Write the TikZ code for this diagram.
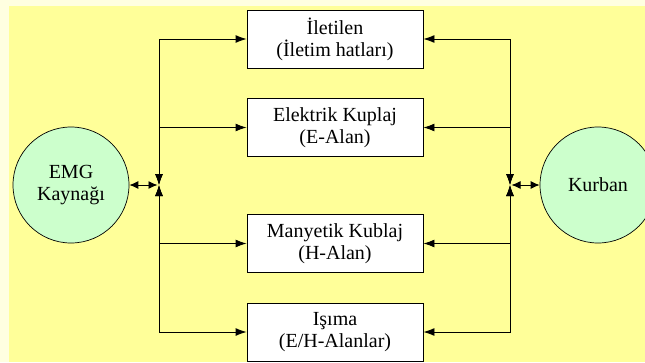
\documentclass[tikz,border=0pt]{standalone}
\usepackage{fontspec}
\setmainfont{Liberation Serif}
\usetikzlibrary{arrows.meta}
\definecolor{pagecream}{HTML}{FFFFE0}
\definecolor{paneyellow}{HTML}{FFFF99}
\definecolor{discgreen}{HTML}{CCFFCC}
\begin{document}
\begin{tikzpicture}[x=1pt,y=-1pt,
  every node/.style={font=\fontsize{20}{22}\selectfont, text=black},
  pathbox/.style={draw=black, line width=0.9pt, fill=white, minimum width=176pt,
    minimum height=58pt, align=center, inner sep=0pt},
  disc/.style={circle, draw=black, line width=0.7pt, fill=discgreen,
    minimum size=116pt, align=center, inner sep=0pt},
  link/.style={line width=0.9pt, {Latex[length=11pt,width=8pt]}-{Latex[length=11pt,width=8pt]}},
  stub/.style={line width=0.9pt, {Latex[length=9pt,width=8pt]}-{Latex[length=9pt,width=8pt]}}]
  % page and panel
  \useasboundingbox (0,0) rectangle (645,362);
  \fill[pagecream] (0,0) rectangle (645,362);
  \fill[paneyellow] (9,6) rectangle (645,362);

  % coupling paths
  \node[pathbox] (b1) at (335,39)    {İletilen\\(İletim hatları)};
  \node[pathbox] (b2) at (335,127.5) {Elektrik Kuplaj\\(E-Alan)};
  \node[pathbox] (b3) at (335,243.5) {Manyetik Kublaj\\(H-Alan)};
  \node[pathbox] (b4) at (335,332)   {Işıma\\(E/H-Alanlar)};

  % source and victim
  \node[disc] (src) at (71,185)  {EMG\\Kaynağı};
  \node[disc] (tgt) at (598,185) {Kurban};

  % junctions on the bus lines
  \coordinate (jl) at (159,185);
  \coordinate (jr) at (510,185);

  % left bus
  \draw[link] (jl) |- (b1.west);
  \draw[link] (jl) |- (b2.west);
  \draw[link] (jl) |- (b3.west);
  \draw[link] (jl) |- (b4.west);
  \draw[stub, shorten >=1.5pt] (src.east) -- (jl);

  % right bus
  \draw[link] (jr) |- (b1.east);
  \draw[link] (jr) |- (b2.east);
  \draw[link] (jr) |- (b3.east);
  \draw[link] (jr) |- (b4.east);
  \draw[stub, shorten >=1.5pt] (tgt.west) -- (jr);
\end{tikzpicture}
\end{document}
